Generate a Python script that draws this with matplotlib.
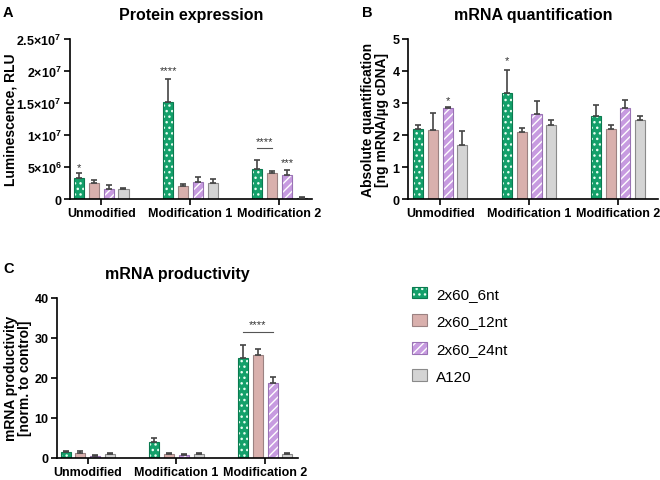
import matplotlib.pyplot as plt
import matplotlib as mpl
import numpy as np

plt.rcParams['font.family'] = ['Liberation Sans', 'DejaVu Sans']
plt.rcParams['mathtext.fontset'] = 'custom'
plt.rcParams['mathtext.rm'] = 'Liberation Sans:bold'
plt.rcParams['mathtext.bf'] = 'Liberation Sans:bold'
plt.rcParams['hatch.linewidth'] = 1.0

groups = ["Unmodified", "Modification 1", "Modification 2"]
series = ["2x60_6nt", "2x60_12nt", "2x60_24nt", "A120"]

# panel A: luminescence (RLU), rows = series, cols = groups
prot_mean = [[3.3e6, 15.1e6, 4.7e6],
             [2.5e6, 2.0e6, 4.0e6],
             [1.6e6, 2.6e6, 3.75e6],
             [1.5e6, 2.5e6, 0.1e6]]
prot_err = [[0.7e6, 3.65e6, 1.4e6],
            [0.5e6, 0.4e6, 0.4e6],
            [0.6e6, 0.8e6, 0.85e6],
            [0.2e6, 0.7e6, 0.15e6]]

# panel B: ng mRNA / ug cDNA
quant_mean = [[2.2, 3.3, 2.6],
              [2.17, 2.08, 2.18],
              [2.85, 2.67, 2.85],
              [1.7, 2.32, 2.47]]
quant_err = [[0.1, 0.72, 0.35],
             [0.51, 0.15, 0.12],
             [0.03, 0.38, 0.23],
             [0.42, 0.15, 0.11]]

# panel C: productivity normalised to control
prod_mean = [[1.5, 4.0, 25.0],
             [1.3, 1.0, 25.8],
             [0.5, 0.8, 18.7],
             [1.0, 0.9, 0.9]]
prod_err = [[0.2, 1.0, 3.3],
            [0.3, 0.2, 1.5],
            [0.1, 0.2, 1.5],
            [0.3, 0.2, 0.2]]

faces = ["#13a06a", "#d9b0ad", "#c79be0", "#d4d4d4"]
edges = ["#0b7a4f", "#9b8282", "#9a73b5", "#8a8a8a"]
hatches = ["...", None, "////", None]
hatch_cols = ["#e8fff2", None, "white", None]

W = 0.68
GSTEP = 6


def draw_panel(ax, mean, err, xlim, ylim, yticks, yticklabels, ylabel, labelx, title):
    for j in range(4):
        x = np.arange(3) * GSTEP + j
        bars = ax.bar(x, mean[j], width=W, color=faces[j], edgecolor=edges[j],
                      linewidth=0.8, label=series[j], zorder=2)
        if hatches[j]:
            for b in bars:
                b.set_hatch(hatches[j])
                b._hatch_color = mpl.colors.to_rgba(hatch_cols[j])
        ax.errorbar(x, mean[j], yerr=[np.zeros(3), err[j]], fmt="none",
                    ecolor="#444444", elinewidth=1.2, capsize=2.5, capthick=1.2, zorder=3)
    ax.set_xlim(*xlim)
    ax.set_ylim(*ylim)
    ax.set_yticks(yticks)
    ax.set_yticklabels(yticklabels)
    ax.set_xticks(np.arange(3) * GSTEP + 1.5)
    ax.set_xticklabels(groups)
    for s in ["top", "right"]:
        ax.spines[s].set_visible(False)
    for s in ["left", "bottom"]:
        ax.spines[s].set_linewidth(1.2)
    ax.tick_params(width=1.2, length=4, labelsize=9, pad=2)
    for t in ax.get_xticklabels() + ax.get_yticklabels():
        t.set_fontweight("bold")
    ax.set_ylabel(ylabel, fontsize=10, fontweight="bold", linespacing=1.0)
    ax.yaxis.set_label_coords(labelx, 0.5)
    ax.set_title(title, fontsize=11.5, fontweight="bold", pad=14)


def star(ax, x, y, s):
    ax.text(x, y, s, ha="center", va="bottom", fontsize=8, color="#333333")


fig = plt.figure(figsize=(6.6, 4.81), dpi=100)

axA = fig.add_axes([0.106, 0.584, 0.367, 0.333])
draw_panel(axA, prot_mean, prot_err, (-0.6, 15.7), (0, 2.5e7),
           [0, 5e6, 1e7, 1.5e7, 2e7, 2.5e7],
           ["0", "5×10$^{6}$", "1×10$^{7}$", "1.5×10$^{7}$", "2×10$^{7}$", "2.5×10$^{7}$"],
           "Luminescence, RLU", -0.215, "Protein expression")
star(axA, 0, prot_mean[0][0] + prot_err[0][0] + 0.2e6, "*")
star(axA, 6, prot_mean[0][1] + prot_err[0][1] + 0.6e6, "****")
axA.plot([12, 13], [7.9e6, 7.9e6], color="#555555", lw=0.8)
star(axA, 12.5, 8.3e6, "****")
star(axA, 14, prot_mean[2][2] + prot_err[2][2] + 0.4e6, "***")

axB = fig.add_axes([0.618, 0.584, 0.379, 0.333])
draw_panel(axB, quant_mean, quant_err, (-0.68, 16.2), (0, 5), [0, 1, 2, 3, 4, 5],
           ["0", "1", "2", "3", "4", "5"],
           "Absolute quantification\n[ng mRNA/µg cDNA]", -0.075, "mRNA quantification")
star(axB, 2, quant_mean[2][0] + quant_err[2][0] + 0.05, "*")
star(axB, 6, quant_mean[0][1] + quant_err[0][1] + 0.15, "*")

axC = fig.add_axes([0.086, 0.046, 0.365, 0.333])
draw_panel(axC, prod_mean, prod_err, (-0.6, 15.7), (0, 40), [0, 10, 20, 30, 40],
           ["0", "10", "20", "30", "40"],
           "mRNA productivity\n[norm. to control]", -0.104, "mRNA productivity")
axC.plot([12, 14], [31.5, 31.5], color="#555555", lw=0.8)
star(axC, 13, 32.2, "****")

for letter, (lx, ly) in zip("ABC", [(3, 6), (362, 6), (3, 262)]):
    fig.text(lx / 660, 1 - ly / 481, letter, fontsize=10.5, fontweight="bold", va="top")

handles, labels = axC.get_legend_handles_labels()
fig.legend(handles, labels, loc="upper left", bbox_to_anchor=(0.624, 0.402),
           frameon=False, fontsize=11, handlelength=1.0, handleheight=0.8,
           labelspacing=0.88, handletextpad=0.6, borderpad=0, borderaxespad=0)

fig.savefig("out.png", dpi=100)
